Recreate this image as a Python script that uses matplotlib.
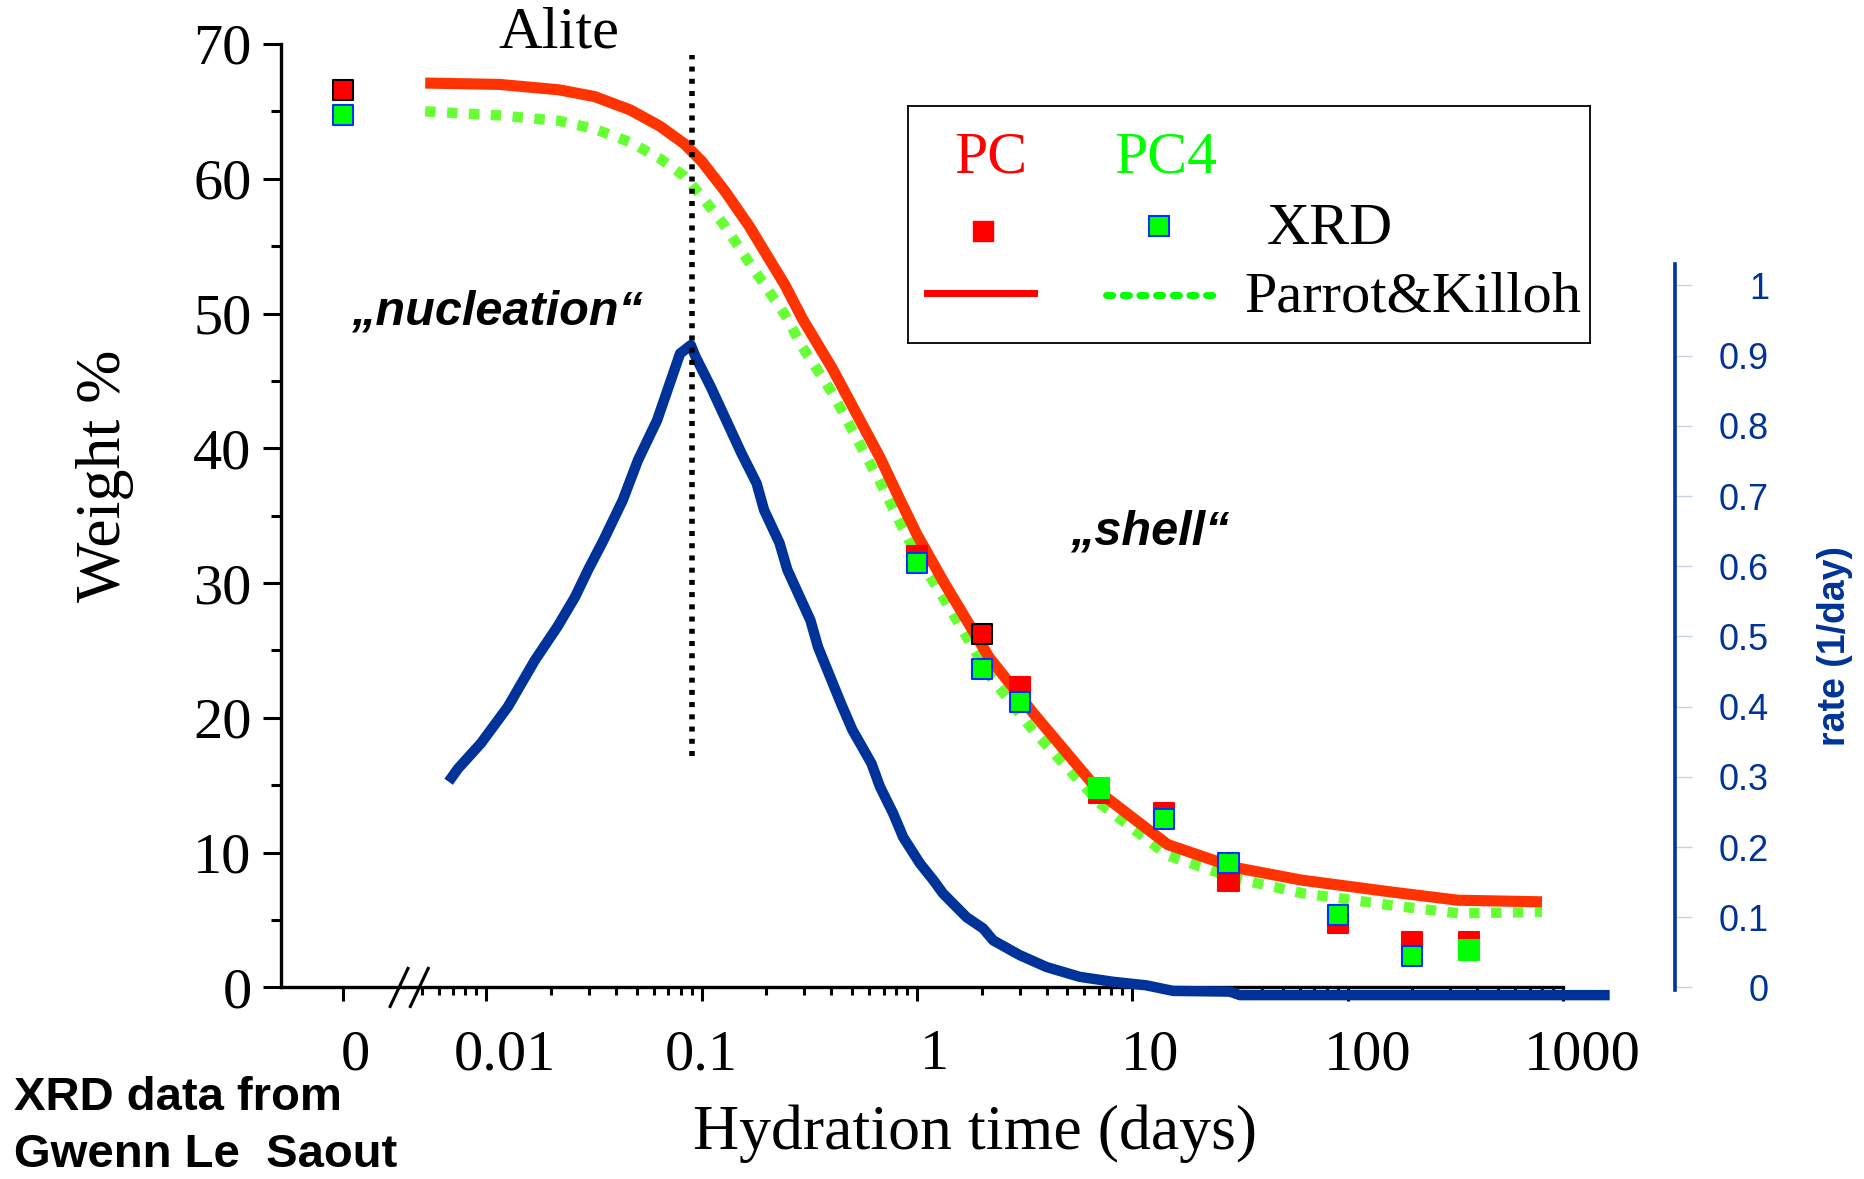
import matplotlib
matplotlib.use("Agg")
import matplotlib.pyplot as plt
from matplotlib.lines import Line2D
from matplotlib.transforms import ScaledTranslation

# XRD values at t = 0 (plotted left of the axis break)
xrd0_pc = 66.6
xrd0_pc4 = 64.7

# XRD measurements, alite content in wt%
xrd_days = [1, 2, 3, 7, 14, 28, 90, 200, 365]
xrd_pc = [32.0, 26.2, 22.3, 14.4, 12.9, 7.9, 4.8, 3.4, 3.4]
xrd_pc4 = [31.5, 23.6, 21.2, 14.8, 12.5, 9.2, 5.4, 2.3, 2.75]

# Parrot & Killoh model curves
pk_days = [0.0052, 0.0115, 0.0217, 0.0318, 0.0467, 0.064, 0.083, 0.1, 0.128,
           0.166, 0.244, 0.294, 0.405, 0.674, 0.833, 1.0, 1.34, 2.16, 3.49,
           7.14, 14.6, 29.9, 61.2, 158, 325, 800]
pk_pc = [67.1, 67.0, 66.6, 66.1, 65.1, 63.9, 62.6, 61.3, 59.1, 56.5, 52.1,
         49.6, 45.9, 39.3, 36.2, 33.6, 30.0, 24.5, 20.3, 14.4, 10.6, 8.9,
         7.96, 7.09, 6.47, 6.35]
pk_pc4 = [65.0, 64.7, 64.3, 63.7, 62.7, 61.5, 60.2, 58.7, 56.5, 53.8, 49.9,
          47.5, 44.1, 37.5, 34.5, 32.0, 28.8, 23.2, 19.0, 13.6, 9.8, 8.1,
          7.0, 6.1, 5.5, 5.6]

# hydration rate (1/day)
rate_days = [0.00668, 0.0074, 0.00945, 0.0126, 0.0168, 0.0214, 0.0258, 0.0297,
             0.035, 0.043, 0.0506, 0.0621, 0.0703, 0.0794, 0.0891, 0.0935,
             0.110, 0.130, 0.153, 0.180, 0.195, 0.230, 0.250, 0.320, 0.347,
             0.443, 0.501, 0.615, 0.673, 0.775, 0.863, 1.03, 1.19, 1.32, 1.70,
             2.03, 2.26, 3.00, 4.00, 5.71, 8.15, 11.6, 15.5, 28.4, 31.6, 1650]
rate = [0.293, 0.312, 0.348, 0.40, 0.466, 0.514, 0.556, 0.595, 0.637, 0.694,
        0.751, 0.808, 0.856, 0.903, 0.915, 0.899, 0.856, 0.808, 0.761, 0.718,
        0.68, 0.633, 0.595, 0.523, 0.485, 0.405, 0.367, 0.319, 0.286, 0.248,
        0.214, 0.177, 0.153, 0.134, 0.100, 0.084, 0.067, 0.046, 0.029, 0.015,
        0.008, 0.003, -0.005, -0.006, -0.011, -0.011]

peak_time = 0.09
peak_span = [17.2, 69.2]

x_ticks = [0.01, 0.1, 1, 10, 100, 1000]
x_labels = ["0.01", "0.1", "1", "10", "100", "1000"]
rate_ticks = [0, 0.1, 0.2, 0.3, 0.4, 0.5, 0.6, 0.7, 0.8, 0.9, 1.0]
rate_labels = ["0", "0.1", "0.2", "0.3", "0.4", "0.5", "0.6", "0.7", "0.8", "0.9", "1"]

RED = "#FF3300"
GREEN_LINE = "#66FF33"
BLUE = "#003399"
SERIF = "Liberation Serif"
SANS = "Liberation Sans"

plt.rcParams["font.family"] = SERIF

fig = plt.figure(figsize=(18.65, 11.79), dpi=100)
bottom, height = 0.1625, 0.8002
ax0 = fig.add_axes([0.1505, bottom, 0.0663, height])
ax = fig.add_axes([0.2168, bottom, 0.6212, height])

# --- t = 0 segment ---
ax0.set_xlim(-1, 1)
ax0.set_ylim(0, 70)
ax0.set_xticks([0])
ax0.set_xticklabels(["0"])
ax0.set_yticks(range(0, 71, 10))
ax0.set_yticks(range(5, 70, 10), minor=True)
for s in ["top", "right"]:
    ax0.spines[s].set_visible(False)
for s in ["left", "bottom"]:
    ax0.spines[s].set_linewidth(2.4)
ax0.tick_params(axis="y", which="major", length=13, width=2.2, pad=8, labelsize=42)
ax0.tick_params(axis="y", which="minor", length=7, width=2.2)
ax0.tick_params(axis="x", which="major", length=10, width=2.2, pad=20, labelsize=42)
ax0.scatter([0], [xrd0_pc], marker="s", s=210, color="#FF0000",
            edgecolors="black", linewidths=1.5, zorder=4, clip_on=False)
ax0.scatter([0], [xrd0_pc4], marker="s", s=210, color="#00FF00",
            edgecolors="#0033FF", linewidths=1.5, zorder=5, clip_on=False)

# --- log time axis ---
ax.set_xscale("log")
ax.set_xlim(0.00416, 1000)
ax.set_ylim(0, 70)
ax.set_xticks(x_ticks)
ax.set_xticklabels(x_labels)
for s in ["top", "right", "left"]:
    ax.spines[s].set_visible(False)
ax.spines["bottom"].set_linewidth(2.4)
ax.yaxis.set_visible(False)
ax.tick_params(axis="x", which="major", length=10, width=2.2, pad=20, labelsize=42)
ax.tick_params(axis="x", which="minor", length=6, width=2.2)

ax.plot(pk_days, pk_pc4, color=GREEN_LINE, lw=7.5, linestyle=(0, (1.0, 1.1)),
        dash_capstyle="butt", zorder=2)
ax.plot(pk_days, pk_pc, color=RED, lw=8, solid_capstyle="butt",
        solid_joinstyle="round", zorder=3)

pc_edges = ["#FF0000", "black", "#FF0000", "#FF0000", "#FF0000", "#FF0000",
            "#FF0000", "#FF0000", "#FF0000"]
pc4_edges = ["#0033FF", "#0033FF", "#0033FF", "#00FF00", "#0033FF", "#0033FF",
             "#0033FF", "#0033FF", "#00FF00"]
ax.scatter(xrd_days, xrd_pc, marker="s", s=210, color="#FF0000",
           edgecolors=pc_edges, linewidths=1.5, zorder=4)
ax.scatter(xrd_days, xrd_pc4, marker="s", s=210, color="#00FF00",
           edgecolors=pc4_edges, linewidths=1.5, zorder=5)

# shift tick labels slightly right of their ticks
x_shift = {"0.01": 19, "0.1": 0, "1": 17, "10": 18, "100": 20, "1000": 19}
for lbl in ax.get_xticklabels():
    dx = x_shift.get(lbl.get_text(), 0) / 100
    lbl.set_transform(lbl.get_transform() + ScaledTranslation(dx, 0, fig.dpi_scale_trans))
for lbl in ax0.get_xticklabels():
    lbl.set_transform(lbl.get_transform() + ScaledTranslation(0.13, 0, fig.dpi_scale_trans))

# --- rate axis ---
rate_ax = ax.twinx()
rate_ax.set_ylim(0, 1.344)
for s in ["top", "left", "bottom"]:
    rate_ax.spines[s].set_visible(False)
rate_ax.spines["right"].set_position(("axes", 1.0965))
rate_ax.spines["right"].set_bounds(-0.003, 1.03)
rate_ax.spines["right"].set_color(BLUE)
rate_ax.spines["right"].set_linewidth(2.6)
rate_ax.set_yticks(rate_ticks)
rate_ax.set_yticklabels(rate_labels, family=SANS, color=BLUE, fontsize=26,
                        ha="right")
rate_ax.tick_params(axis="y", length=12, width=1, color="#C8D2E6", pad=56)

rate_ax.plot(rate_days, rate, color=BLUE, lw=7.5, solid_joinstyle="round",
             solid_capstyle="butt", clip_on=False, zorder=2)
rate_ax.plot([peak_time, peak_time], peak_span, transform=ax.transData,
             color="black", lw=4, linestyle=(0, (0.9, 1.3)), zorder=3)

# axis break marks
W, H = 1568, 991
for x0 in (328, 345):
    fig.add_artist(Line2D([x0 / W, (x0 + 15) / W], [1 - 846 / H, 1 - 814 / H],
                          color="black", lw=2.2))

# --- legend box ---
leg = fig.add_axes([0.4866, 0.7094, 0.366, 0.2008])
leg.set_xlim(0, 1)
leg.set_ylim(0, 1)
leg.set_xticks([])
leg.set_yticks([])
for s in leg.spines.values():
    s.set_linewidth(1.3)
leg.text(0.122, 0.779, "PC", color="#FF0000", fontsize=43, ha="center", va="center")
leg.text(0.378, 0.779, "PC4", color="#00FF00", fontsize=43, ha="center", va="center")
leg.plot([0.110], [0.472], marker="s", ms=14, color="#FF0000", mec="#FF0000")
leg.plot([0.369], [0.492], marker="s", ms=14, color="#00FF00", mec="#0033FF", mew=1.5)
leg.text(0.526, 0.477, "XRD", fontsize=43, ha="left", va="center")
leg.plot([0.028, 0.186], [0.211, 0.211], color="#FF0000", lw=5)
leg.plot([0.291, 0.46], [0.201, 0.201], color="#00FF00", lw=5,
         linestyle=(0, (0.9, 1.5)), dash_capstyle="round")
leg.text(0.494, 0.191, "Parrot&Killoh", fontsize=42, ha="left", va="center")

# --- annotations ---
fig.text(470 / W, 1 - 28 / H, "Alite", fontsize=43.5, ha="center", va="center")
fig.text(418 / W, 1 - 262 / H, "\u201enucleation\u201c", family=SANS,
         weight="bold", style="italic", fontsize=35, ha="center", va="center")
fig.text(967 / W, 1 - 447 / H, "\u201eshell\u201c", family=SANS,
         weight="bold", style="italic", fontsize=35, ha="center", va="center")
fig.text(88 / W, 1 - 400 / H, "Weight %", fontsize=46, rotation=90,
         ha="center", va="center")
fig.text(820 / W, 1 - 953 / H, "Hydration time (days)", fontsize=46,
         ha="center", va="center")
fig.text(12 / W, 1 - 989 / H, "XRD data from\nGwenn Le  Saout", family=SANS,
         weight="bold", fontsize=34, ha="left", va="bottom", linespacing=1.36)
fig.text(1543 / W, 1 - 543 / H, "rate (1/day)", family=SANS, weight="bold",
         color=BLUE, fontsize=27, rotation=90, ha="center", va="center")

fig.savefig("out.png", dpi=100)
